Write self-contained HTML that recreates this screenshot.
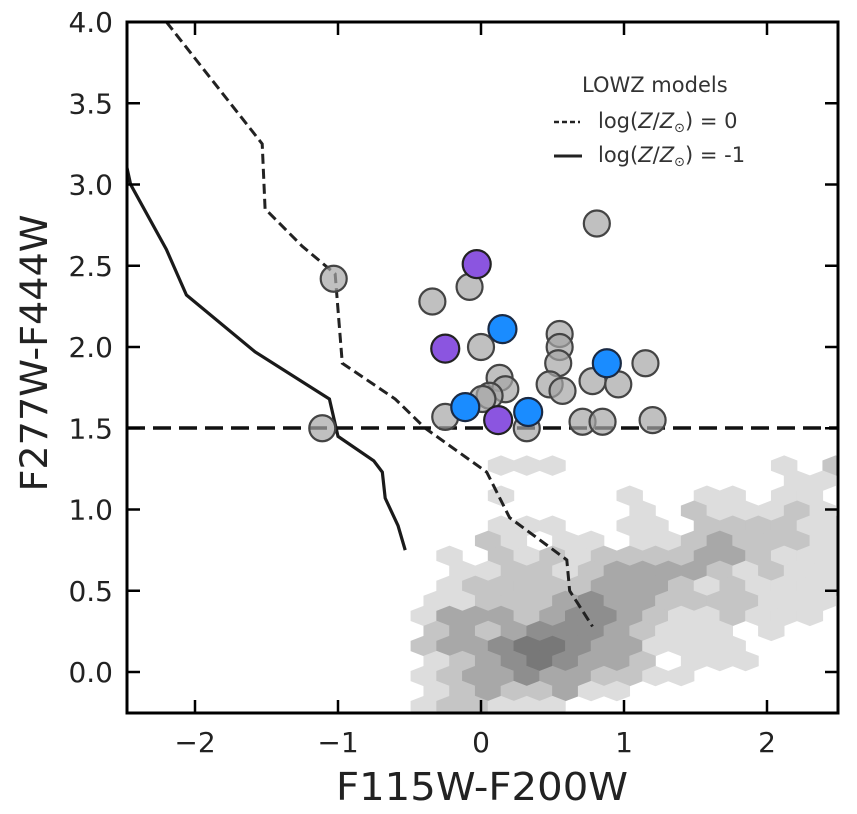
<!DOCTYPE html>
<html><head><meta charset="utf-8"><style>
html,body{margin:0;padding:0;background:#fff;}
svg{display:block;font-family:"DejaVu Sans","Liberation Sans",sans-serif;}
</style></head><body>
<svg id="chart" width="857" height="814" viewBox="0 0 857 814" xmlns="http://www.w3.org/2000/svg">
<defs><clipPath id="plotclip"><rect x="127" y="22" width="711" height="691"/></clipPath></defs>
<g id="hex" clip-path="url(#plotclip)"></g>
<g id="lines" clip-path="url(#plotclip)"></g>
<line x1="127" x2="838" y1="428" y2="428" stroke="#111" stroke-width="3.5" stroke-dasharray="18,8"/>
<g id="pts"></g>
<rect x="127" y="22" width="711" height="691" fill="none" stroke="#000" stroke-width="3"/>
<g id="axes"></g>
<text x="482" y="800" font-size="38" text-anchor="middle" fill="#222" textLength="292" lengthAdjust="spacingAndGlyphs">F115W-F200W</text>
<text transform="translate(47,353) rotate(-90)" font-size="37" text-anchor="middle" fill="#222" textLength="277" lengthAdjust="spacingAndGlyphs">F277W-F444W</text>
<g fill="#333" font-size="21">
<text x="582" y="92">LOWZ models</text>
<line x1="554" x2="580" y1="122" y2="122" stroke="#222" stroke-width="2.5" stroke-dasharray="5,3"/>
<text x="598" y="128">log(<tspan font-style="italic">Z</tspan>/<tspan font-style="italic">Z</tspan><tspan font-size="13" dy="4">⊙</tspan><tspan dy="-4">) = 0</tspan></text>
<line x1="554" x2="582" y1="156" y2="156" stroke="#222" stroke-width="3"/>
<text x="598" y="162">log(<tspan font-style="italic">Z</tspan>/<tspan font-style="italic">Z</tspan><tspan font-size="13" dy="4">⊙</tspan><tspan dy="-4">) = -1</tspan></text>
</g>
</svg>
<script>
const xTicks=[-2,-1,0,1,2];
const yTicks=[0.0,0.5,1.0,1.5,2.0,2.5,3.0,3.5,4.0];
const hexX0=-0.4, hexDX=0.18, hexY0=1.27, hexDY=0.0925;
const hexRows=[
"00011100000000102",
"00000000000000110",
"00010000100110110",
"00000000102111210",
"00011100110222211",
"00210110112322211",
"01021212222332111",
"01122123333212111",
"01222223332121111",
"11222343322221110",
"13332344321121110",
"23234443211101000",
"23345543311110000",
"12345433201110000",
"12334332211000000",
"12322311000000000",
"12211100000000000"];
const dashX=[-2.2,-1.95,-1.53,-1.51,-1.25,-1.02,-0.97,-0.6,-0.39,0.04,0.2,0.6,0.62,0.78];
const dashY=[4.0,3.72,3.25,2.85,2.62,2.45,1.9,1.68,1.5,1.23,0.95,0.69,0.5,0.28];
const solidX=[-2.5,-2.45,-2.2,-2.06,-1.58,-1.06,-1.0,-0.75,-0.69,-0.67,-0.58,-0.53];
const solidY=[3.2,3.0,2.6,2.32,1.97,1.68,1.45,1.3,1.23,1.07,0.9,0.75];
const grayX=[0.81,-0.08,-0.34,0.0,0.55,0.55,0.54,0.48,0.57,0.13,0.17,0.06,0.78,0.96,1.15,-0.25,0.71,0.85,1.2,0.32,-1.03,-1.11,0.01];
const grayY=[2.76,2.37,2.28,2.0,2.08,2.0,1.9,1.77,1.73,1.81,1.74,1.7,1.79,1.77,1.9,1.57,1.54,1.54,1.55,1.5,2.42,1.5,1.68];
const purpX=[-0.03,-0.25,0.12];
const purpY=[2.51,1.99,1.55];
const blueX=[0.15,0.88,-0.11,0.33];
const blueY=[2.11,1.9,1.63,1.6];
const NS="http://www.w3.org/2000/svg";
const sx=v=>481+v*143, sy=v=>672-v*162.5;
function mk(t,a,p){const e=document.createElementNS(NS,t);for(const k in a)e.setAttribute(k,a[k]);p.appendChild(e);return e;}
const grays=["#fff","#dddddd","#c5c5c5","#a8a8a8","#8e8e8e","#787878"];
const hg=document.getElementById('hex');
hexRows.forEach((row,r)=>{[...row].forEach((ch,c)=>{const v=+ch;if(!v)return;
 const cx=sx(hexX0+c*hexDX+(r%2?hexDX/2:0)), cy=sy(hexY0-r*hexDY);
 const w=13.2,h=10.2;
 const pts=[[cx,cy-h],[cx+w,cy-h/2],[cx+w,cy+h/2],[cx,cy+h],[cx-w,cy+h/2],[cx-w,cy-h/2]].map(p=>p.join(',')).join(' ');
 const e=mk('polygon',{points:pts,fill:grays[v]},hg);
 
 
});});
const lg=document.getElementById('lines');
const d1=mk('polyline',{points:dashX.map((x,i)=>sx(x)+','+sy(dashY[i])).join(' '),fill:'none',stroke:'#222','stroke-width':3,'stroke-dasharray':'10,5'},lg);


const d2=mk('polyline',{points:solidX.map((x,i)=>sx(x)+','+sy(solidY[i])).join(' '),fill:'none',stroke:'#1a1a1a','stroke-width':3.2},lg);


const pg=document.getElementById('pts');
grayX.forEach((x,i)=>{const e=mk('circle',{cx:sx(x),cy:sy(grayY[i]),r:13,fill:'rgba(165,165,165,0.7)',stroke:'#444','stroke-width':2.2},pg);
 
 });
purpX.forEach((x,i)=>{const e=mk('circle',{cx:sx(x),cy:sy(purpY[i]),r:14,fill:'#8b55e0',stroke:'#222','stroke-width':2.2},pg);
 
 });
blueX.forEach((x,i)=>{const e=mk('circle',{cx:sx(x),cy:sy(blueY[i]),r:14,fill:'#1a8cff',stroke:'#1a2a44','stroke-width':2.2},pg);
 
 });
const ag=document.getElementById('axes');
xTicks.forEach(t=>{const x=sx(t);
 mk('line',{x1:x,x2:x,y1:713,y2:700,stroke:'#000','stroke-width':2.5},ag);
 mk('line',{x1:x,x2:x,y1:22,y2:35,stroke:'#000','stroke-width':2.5},ag);
 const e=mk('text',{x:x,y:752,'font-size':28,'text-anchor':'middle',fill:'#222'},ag);
 e.textContent=(t<0?'\u2212':'')+Math.abs(t);
 
 });
yTicks.forEach(t=>{const y=sy(t);
 mk('line',{x1:127,x2:140,y1:y,y2:y,stroke:'#000','stroke-width':2.5},ag);
 mk('line',{x1:838,x2:825,y1:y,y2:y,stroke:'#000','stroke-width':2.5},ag);
 const e=mk('text',{x:113,y:y+10,'font-size':28,'text-anchor':'end',fill:'#222'},ag);
 e.textContent=t.toFixed(1);
 
 });
</script>
</body></html>
